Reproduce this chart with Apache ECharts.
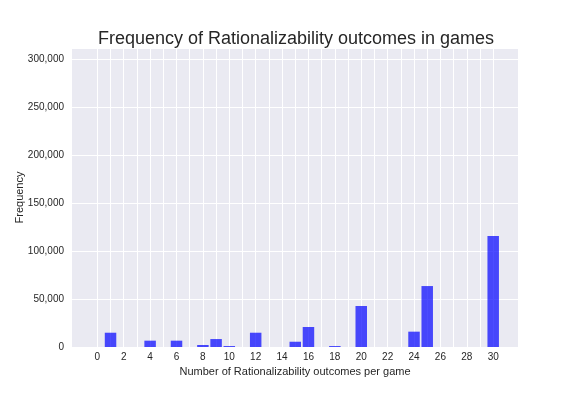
<!DOCTYPE html>
<html>
<head>
<meta charset="utf-8">
<script src="https://cdn.jsdelivr.net/npm/echarts@6/dist/echarts.min.js"></script>
<style>
  html, body { margin: 0; padding: 0; background: #fff; }
  #chart { width: 576px; height: 396px; }
</style>
</head>
<body>
<div id="chart"></div>
<script>
// outcomes per game (x) and how many games had that many
var outcomes = [1, 4, 6, 8, 9, 10, 12, 15, 16, 18, 20, 24, 25, 30];
var counts = [14900, 6600, 6600, 2100, 8300, 1000, 14900, 5500, 20900, 1000, 42800, 16000, 63600, 115800];
var gridTicks = [];
for (var i = 0; i <= 30; i++) gridTicks.push(i);
var xLabels = [0, 2, 4, 6, 8, 10, 12, 14, 16, 18, 20, 22, 24, 26, 28, 30];

var textColor = '#262626';
var font = '"Liberation Sans", Arial, sans-serif';

var myChart = echarts.init(document.getElementById('chart'));
myChart.setOption({
    animation: false,
    title: {
        text: 'Frequency of Rationalizability outcomes in games',
        left: 291,
        textAlign: 'center',
        top: 25,
        textStyle: { fontFamily: font, fontSize: 18, fontWeight: 'normal', color: textColor }
    },
    grid: {
        left: 72,
        right: 58,
        top: 48,
        bottom: 49,
        show: true,
        backgroundColor: '#EAEAF2',
        borderWidth: 0
    },
    xAxis: {
        type: 'value',
        min: -1.92,
        max: 31.88,
        name: 'Number of Rationalizability outcomes per game',
        nameLocation: 'middle',
        nameGap: 19,
        nameTextStyle: { fontFamily: font, fontSize: 11, color: textColor },
        axisLine: { show: false },
        axisTick: { show: false, customValues: gridTicks },
        axisLabel: {
            customValues: xLabels,
            margin: 5,
            fontFamily: font,
            fontSize: 10,
            color: textColor
        },
        splitLine: { show: true, lineStyle: { color: '#fff', width: 1 } }
    },
    yAxis: {
        type: 'value',
        min: 0,
        max: 312000,
        interval: 50000,
        name: 'Frequency',
        nameLocation: 'middle',
        nameGap: 47,
        nameMoveOverlap: false,
        nameTextStyle: { fontFamily: font, fontSize: 11, color: textColor },
        axisLine: { show: false },
        axisTick: { show: false },
        axisLabel: {
            margin: 8,
            showMaxLabel: false,
            fontFamily: font,
            fontSize: 10,
            color: textColor,
            formatter: function (v) {
                return String(v).replace(/\B(?=(\d{3})+(?!\d))/g, ',');
            }
        },
        splitLine: { show: true, lineStyle: { color: '#fff', width: 1 } }
    },
    series: [
        {
            type: 'bar',
            barWidth: 11.5,
            itemStyle: { color: 'rgba(0,0,255,0.7)' },
            data: outcomes.map(function (x, i) { return [x, counts[i]]; })
        }
    ]
});
</script>
</body>
</html>
